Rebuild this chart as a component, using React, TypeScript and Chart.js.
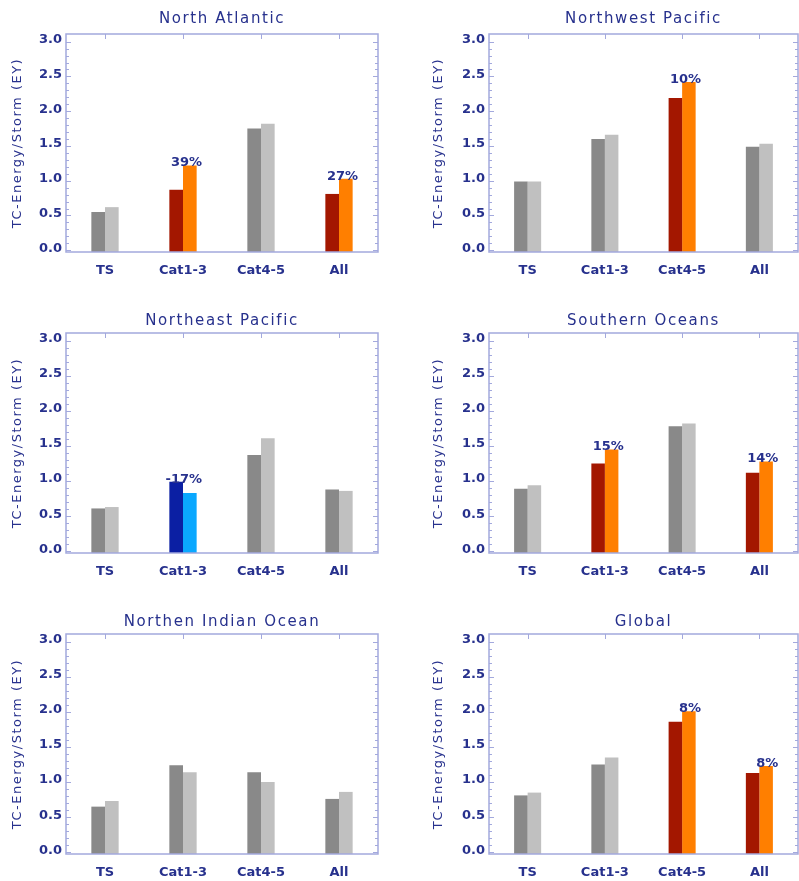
import React, { useEffect, useRef } from 'react';
import { Chart, registerables } from 'chart.js';

Chart.register(...registerables);

// ---------- data ----------
const categories = ['TS', 'Cat1-3', 'Cat4-5', 'All'];
const yTickValues = [0, 0.5, 1.0, 1.5, 2.0, 2.5, 3.0];
const yMinorStep = 0.1;
const yMin = -0.025;
const yMax = 3.11;
const yAxisTitle = 'TC-Energy/Storm (EY)';

const naTitle = 'North Atlantic';
const naPresent = [0.55, 0.87, 1.75, 0.81];
const naFuture = [0.62, 1.22, 1.82, 1.03];
const naPct = [null, 39, null, 27];

const nwpTitle = 'Northwest Pacific';
const nwpPresent = [0.99, 1.6, 2.19, 1.49];
const nwpFuture = [0.99, 1.66, 2.42, 1.53];
const nwpPct = [null, null, 10, null];

const nepTitle = 'Northeast Pacific';
const nepPresent = [0.61, 0.99, 1.37, 0.88];
const nepFuture = [0.63, 0.83, 1.61, 0.86];
const nepPct = [null, -17, null, null];

const soTitle = 'Southern Oceans';
const soPresent = [0.89, 1.25, 1.78, 1.12];
const soFuture = [0.94, 1.45, 1.82, 1.28];
const soPct = [null, 15, null, 14];

const nioTitle = 'Northen Indian Ocean';
const nioPresent = [0.65, 1.24, 1.14, 0.76];
const nioFuture = [0.73, 1.14, 1.0, 0.86];
const nioPct = [null, null, null, null];

const glTitle = 'Global';
const glPresent = [0.81, 1.25, 1.86, 1.13];
const glFuture = [0.85, 1.35, 2.01, 1.23];
const glPct = [null, null, 8, 8];

// ---------- styles ----------
const FONT = '"DejaVu Sans", sans-serif';
const TEXT = '#27318d';
const AXIS = '#a3a9dd';
const GREY_DARK = '#898989';
const GREY_LIGHT = '#c0c0c0';
const RED = '#a31700';
const ORANGE = '#ff7f00';
const BLUE_DARK = '#0b1fa3';
const BLUE_LIGHT = '#0aa8ff';

const colLeft = [0, 400];
const colWidth = [400, 399];
const areaLeft = [66, 89];
const areaRight = [378, 398];
const yTitleX = [18, 39];

const rowTop = [0, 300, 600];
const rowHeight = [300, 300, 281];
const areaTop = [34, 33, 34];
const areaBottom = [252, 253, 254];
const titleY = [19.5, 20.7, 21.7];
const X_AXIS_H = 25;

type PanelDef = {
  title: string;
  present: number[];
  future: number[];
  pct: (number | null)[];
  col: number;
  row: number;
};

const panels: PanelDef[] = [
  { title: naTitle, present: naPresent, future: naFuture, pct: naPct, col: 0, row: 0 },
  { title: nwpTitle, present: nwpPresent, future: nwpFuture, pct: nwpPct, col: 1, row: 0 },
  { title: nepTitle, present: nepPresent, future: nepFuture, pct: nepPct, col: 0, row: 1 },
  { title: soTitle, present: soPresent, future: soFuture, pct: soPct, col: 1, row: 1 },
  { title: nioTitle, present: nioPresent, future: nioFuture, pct: nioPct, col: 0, row: 2 },
  { title: glTitle, present: glPresent, future: glFuture, pct: glPct, col: 1, row: 2 },
];

function colorsFor(pct: (number | null)[], which: 0 | 1) {
  return pct.map((p) => {
    if (p == null) return which === 0 ? GREY_DARK : GREY_LIGHT;
    if (p < 0) return which === 0 ? BLUE_DARK : BLUE_LIGHT;
    return which === 0 ? RED : ORANGE;
  });
}

function Panel({ p }: { p: PanelDef }) {
  const ref = useRef<HTMLCanvasElement | null>(null);
  const W = colWidth[p.col];
  const H = rowHeight[p.row];

  useEffect(() => {
    const canvas = ref.current;
    if (!canvas) return;
    const aL = areaLeft[p.col];
    const aR = areaRight[p.col];
    const aT = areaTop[p.row];
    const aB = areaBottom[p.row];

    const decor = {
      id: 'decor',
      afterDatasetsDraw(chart: any) {
        const ctx = chart.ctx;
        const a = chart.chartArea;
        const ys = chart.scales.y;
        const xs = chart.scales.x;
        ctx.save();
        ctx.strokeStyle = AXIS;
        ctx.lineWidth = 1;
        const nMinor = Math.round((yTickValues[yTickValues.length - 1] - yTickValues[0]) / yMinorStep);
        for (let i = 0; i <= nMinor; i++) {
          const v = yTickValues[0] + i * yMinorStep;
          const isMajor = yTickValues.some((t) => Math.abs(t - v) < 1e-6);
          const len = isMajor ? 5 : 3;
          const y = Math.round(ys.getPixelForValue(v)) + 0.5;
          ctx.beginPath();
          ctx.moveTo(a.left, y);
          ctx.lineTo(a.left + len, y);
          ctx.moveTo(a.right, y);
          ctx.lineTo(a.right - len, y);
          ctx.stroke();
        }
        categories.forEach((_, i) => {
          const x = Math.round(xs.getPixelForValue(i)) + 0.5;
          ctx.beginPath();
          ctx.moveTo(x, a.top);
          ctx.lineTo(x, a.top + 5);
          ctx.stroke();
        });
        ctx.lineWidth = 1.5;
        ctx.strokeRect(a.left, a.top, a.right - a.left, a.bottom - a.top);
        ctx.restore();
      },
      afterDraw(chart: any) {
        const ctx = chart.ctx;
        const a = chart.chartArea;
        ctx.save();
        ctx.fillStyle = TEXT;
        ctx.letterSpacing = '1.6px';
        ctx.font = `15px ${FONT}`;
        ctx.textAlign = 'center';
        ctx.textBaseline = 'middle';
        ctx.fillText(p.title, (a.left + a.right) / 2, titleY[p.row]);
        ctx.letterSpacing = '1.5px';
        ctx.font = `13px ${FONT}`;
        ctx.save();
        ctx.translate(yTitleX[p.col], (a.top + a.bottom) / 2);
        ctx.rotate(-Math.PI / 2);
        ctx.fillText(yAxisTitle, 0, 0);
        ctx.restore();
        ctx.letterSpacing = '0px';
        ctx.font = `bold 13px ${FONT}`;
        ctx.textAlign = 'right';
        ctx.textBaseline = 'alphabetic';
        const m0 = chart.getDatasetMeta(0);
        const m1 = chart.getDatasetMeta(1);
        p.pct.forEach((v, i) => {
          if (v == null) return;
          const b0 = m0.data[i];
          const b1 = m1.data[i];
          const cx = (b0.x + b1.x) / 2;
          const top = Math.min(b0.y, b1.y);
          ctx.fillText(`${v}%`, cx + 19, top + 1);
        });
        ctx.restore();
        ctx.letterSpacing = '0px';
      },
    };

    const chart = new Chart(canvas, {
      type: 'bar',
      data: {
        labels: categories,
        datasets: [
          {
            data: p.present,
            backgroundColor: colorsFor(p.pct, 0),
            borderWidth: 0,
            base: yMin,
            categoryPercentage: 0.35,
            barPercentage: 1,
          } as any,
          {
            data: p.future,
            backgroundColor: colorsFor(p.pct, 1),
            borderWidth: 0,
            base: yMin,
            categoryPercentage: 0.35,
            barPercentage: 1,
          } as any,
        ],
      },
      options: {
        animation: false,
        responsive: false,
        devicePixelRatio: 1,
        layout: {
          padding: { left: 0, top: aT, right: W - aR, bottom: H - aB - X_AXIS_H },
        },
        plugins: {
          legend: { display: false },
          title: { display: false },
          tooltip: { enabled: false },
        },
        scales: {
          x: {
            type: 'category',
            offset: true,
            grid: { display: false, drawTicks: false },
            border: { display: false },
            ticks: {
              color: TEXT,
              font: { family: FONT, size: 13, weight: 'bold' },
              padding: 11,
              maxRotation: 0,
              autoSkip: false,
            },
            afterFit: (s: any) => {
              s.height = X_AXIS_H;
            },
          },
          y: {
            type: 'linear',
            min: yMin,
            max: yMax,
            grid: { display: false, drawTicks: false },
            border: { display: false },
            afterBuildTicks: (s: any) => {
              s.ticks = yTickValues.map((v) => ({ value: v }));
            },
            ticks: {
              color: TEXT,
              font: { family: FONT, size: 13, weight: 'bold' },
              padding: 4,
              labelOffset: -2,
              callback: (v: any) => Number(v).toFixed(1),
            },
            afterFit: (s: any) => {
              s.width = aL;
            },
          },
        },
      } as any,
      plugins: [decor],
    });
    return () => chart.destroy();
  }, [p, W, H]);

  return (
    <canvas
      ref={ref}
      width={W}
      height={H}
      style={{
        position: 'absolute',
        left: colLeft[p.col],
        top: rowTop[p.row],
        width: W,
        height: H,
        display: 'block',
      }}
    />
  );
}

export default function App() {
  return (
    <div
      style={{
        position: 'absolute',
        left: 0,
        top: 0,
        width: 799,
        height: 881,
        background: '#ffffff',
        overflow: 'hidden',
      }}
    >
      {panels.map((p, i) => (
        <Panel key={i} p={p} />
      ))}
    </div>
  );
}
